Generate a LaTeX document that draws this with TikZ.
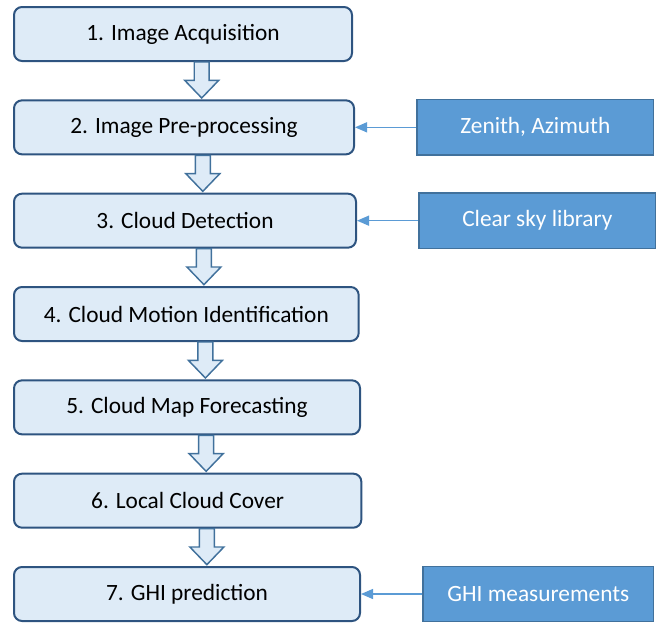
\documentclass[tikz,border=0pt]{standalone}
\usepackage{fontspec}
\setmainfont{Carlito}
\usetikzlibrary{arrows.meta,calc,positioning}
\definecolor{stepColor}{RGB}{222,235,247}
\definecolor{stepBorderColor}{RGB}{46,84,128}
\definecolor{inputColor}{RGB}{91,155,213}
\definecolor{inputBorderColor}{RGB}{65,113,156}
\tikzset{step box/.style={fill=stepColor, draw=stepBorderColor, line width=1.5pt, align=center, minimum height=40.5pt, rounded corners=6pt, font=\fontsize{17.5}{20}\selectfont}}
\tikzset{input/.style={fill=inputColor, draw=inputBorderColor, line width=1pt, align=center, minimum height=41.5pt, text=white, font=\fontsize{17.5}{20}\selectfont}}
\tikzset{feed/.style={draw=inputColor, line width=1pt, -{Triangle[length=9pt, width=7.5pt]}}}
\tikzset{flow/.style={draw=inputBorderColor, fill=stepColor, line width=1.1pt, line join=miter,
  to path={let \p1=($(\tikztostart.south west)!.555!(\tikztostart.south east)$), \p2=(\tikztotarget.north) in
  (\x1-5.6pt,\y1) -- (\x1-5.6pt,\y2+14.25pt) -- (\x1-12.75pt,\y2+14.25pt) -- (\x1,\y2+1pt)
  -- (\x1+12.75pt,\y2+14.25pt) -- (\x1+5.6pt,\y2+14.25pt) -- (\x1+5.6pt,\y1) -- cycle}}}

\begin{document}
\begin{tikzpicture}[node distance=28pt and 46pt]
\useasboundingbox (0,0) rectangle (502.5pt,-468.75pt);
% Nodes
\node (Acquisition) [step box, minimum width=253.5pt, anchor=north west] at (9.75pt,-4.5pt) {1. Image Acquisition};
\node (PreProcessing) [step box, minimum width=255pt, below=of Acquisition.south west, anchor=north west] {2. Image Pre-processing};
\node (CloudDetection) [step box, minimum width=256.5pt, below=of PreProcessing.south west, anchor=north west] {3. Cloud Detection};
\node (CloudMotion) [step box, minimum width=258.5pt, below=of CloudDetection.south west, anchor=north west] {4. Cloud Motion Identification};
\node (MapForecasting) [step box, minimum width=259.5pt, below=of CloudMotion.south west, anchor=north west] {5. Cloud Map Forecasting};
\node (LocalCover) [step box, minimum width=260.5pt, below=of MapForecasting.south west, anchor=north west] {6. Local Cloud Cover};
\node (GHIPrediction) [step box, minimum width=259.5pt, below=of LocalCover.south west, anchor=north west] {7. GHI prediction};

\node (ZenithAzimuth) [input, minimum width=177.5pt, right=of PreProcessing] {Zenith, Azimuth};
\node (ClearSky) [input, minimum width=177.5pt, right=of CloudDetection] {Clear sky library};
\node (GHIMeasurements) [input, minimum width=173pt, right=of GHIPrediction] {GHI measurements};

% Connectors
\draw [flow] (Acquisition) to (PreProcessing);
\draw [flow] (PreProcessing) to (CloudDetection);
\draw [flow] (CloudDetection) to (CloudMotion);
\draw [flow] (CloudMotion) to (MapForecasting);
\draw [flow] (MapForecasting) to (LocalCover);
\draw [flow] (LocalCover) to (GHIPrediction);

\draw [feed] (ZenithAzimuth) -- (PreProcessing);
\draw [feed] (ClearSky) -- (CloudDetection);
\draw [feed] (GHIMeasurements) -- (GHIPrediction);
\end{tikzpicture}
\end{document}
